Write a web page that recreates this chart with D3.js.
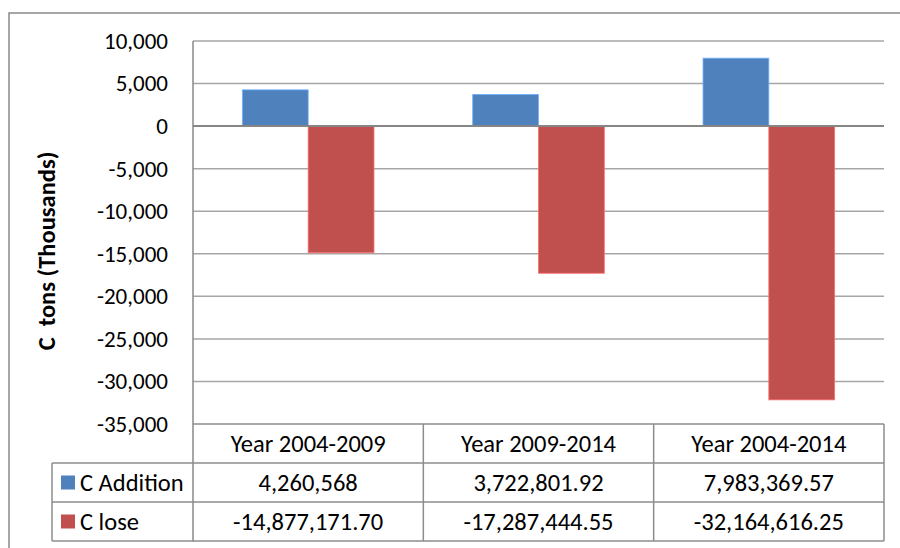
<!DOCTYPE html>
<html>
<head>
<meta charset="utf-8">
<script src="https://cdn.jsdelivr.net/npm/d3@7"></script>
<style>
  html, body { margin: 0; padding: 0; background: #fff; }
  svg { display: block; }
  text { font-family: Carlito, Lato, "Open Sans", sans-serif; fill: #000; }
</style>
</head>
<body>
<svg id="chart" width="900" height="548"></svg>
<script>
// ---- Data ----
const categories = ["Year 2004-2009", "Year 2009-2014", "Year 2004-2014"];
const seriesNames = ["C Addition", "C lose"];
const seriesColors = ["#4f81bd", "#c0504d"];
const cAddition = [4260568, 3722801.92, 7983369.57];
const cLose = [-14877171.70, -17287444.55, -32164616.25];
const cAdditionLabels = ["4,260,568", "3,722,801.92", "7,983,369.57"];
const cLoseLabels = ["-14,877,171.70", "-17,287,444.55", "-32,164,616.25"];
const yTicks = [10000, 5000, 0, -5000, -10000, -15000, -20000, -25000, -30000, -35000];
const yTitle = "C  tons (Thousands)";

const series = [
  { name: seriesNames[0], color: seriesColors[0], values: cAddition, labels: cAdditionLabels },
  { name: seriesNames[1], color: seriesColors[1], values: cLose, labels: cLoseLabels }
];

// ---- Layout ----
const svg = d3.select("#chart");
const plot = { left: 193, right: 884, top: 41, bottom: 424 };
const tableLeft = 52;
const rowH = 39;
const tickFont = "23px";
const tableFont = "24.5px";

const y = d3.scaleLinear().domain([-35000, 10000]).range([plot.bottom, plot.top]);
const x = d3.scaleBand().domain(categories).range([plot.left, plot.right]).padding(0);
const barW = x.bandwidth() / 3.5;

// outer frame
svg.append("path")
  .attr("d", "M9,560 L9,13 L910,13")
  .attr("fill", "none").attr("stroke", "#898989").attr("stroke-width", 1.5);

// gridlines + y axis labels
const yAxis = d3.axisLeft(y).tickValues(yTicks).tickSize(0).tickPadding(0)
  .tickFormat(d => d3.format(",")(d).replace("−", "-"));
const gAxis = svg.append("g").attr("transform", `translate(168,0)`).call(yAxis);
gAxis.select(".domain").remove();
gAxis.selectAll("text").style("font-size", tickFont).attr("fill", "#000")
  .attr("font-family", "Carlito, Lato, sans-serif");

svg.append("g").selectAll("line").data(yTicks.filter(d => d !== 0 && d !== -35000)).join("line")
  .attr("x1", plot.left).attr("x2", plot.right)
  .attr("y1", d => y(d)).attr("y2", d => y(d))
  .attr("stroke", "#a6a6a6").attr("stroke-width", 1.5);

// bars (values in thousands)
series.forEach((s, si) => {
  svg.append("g").selectAll("rect").data(categories).join("rect")
    .attr("x", (c) => x(c) + x.bandwidth() / 2 - barW + si * barW)
    .attr("width", barW)
    .attr("y", (c, i) => y(Math.max(0, s.values[i] / 1000)))
    .attr("height", (c, i) => Math.abs(y(s.values[i] / 1000) - y(0)))
    .attr("fill", s.color)
    .attr("stroke", d3.color(s.color).brighter(0.9))
    .attr("stroke-width", 0.8);
});

// zero line
svg.append("line")
  .attr("x1", plot.left).attr("x2", plot.right)
  .attr("y1", y(0)).attr("y2", y(0))
  .attr("stroke", "#868686").attr("stroke-width", 2);

// plot left axis line
svg.append("line")
  .attr("x1", plot.left).attr("x2", plot.left)
  .attr("y1", plot.top).attr("y2", plot.bottom + rowH * 3 + 0.5)
  .attr("stroke", "#898989").attr("stroke-width", 1.5);

// y title
svg.append("text")
  .attr("transform", `translate(55,${251}) rotate(-90)`)
  .attr("text-anchor", "middle")
  .style("font-size", "24.5px").style("font-weight", "bold")
  .style("white-space", "pre")
  .text(yTitle);

// ---- Data table ----
const tb = svg.append("g");
const tableColor = "#8c8c8c";
tb.append("line").attr("x1", plot.left).attr("x2", plot.right)
  .attr("y1", plot.bottom).attr("y2", plot.bottom)
  .attr("stroke", tableColor).attr("stroke-width", 1.5);
[1, 2, 3].forEach(r => {
  tb.append("line").attr("x1", tableLeft).attr("x2", plot.right)
    .attr("y1", plot.bottom + r * rowH).attr("y2", plot.bottom + r * rowH)
    .attr("stroke", tableColor).attr("stroke-width", 1.5);
});
tb.append("line").attr("x1", tableLeft).attr("x2", tableLeft)
  .attr("y1", plot.bottom + rowH).attr("y2", plot.bottom + 3 * rowH)
  .attr("stroke", tableColor).attr("stroke-width", 1.5);
categories.forEach(c => {
  tb.append("line").attr("x1", x(c) + x.bandwidth()).attr("x2", x(c) + x.bandwidth())
    .attr("y1", plot.bottom).attr("y2", plot.bottom + 3 * rowH)
    .attr("stroke", tableColor).attr("stroke-width", 1.5);
});
tb.selectAll("text.hdr").data(categories).join("text").attr("class", "hdr")
  .attr("x", c => x(c) + x.bandwidth() / 2)
  .attr("y", plot.bottom + rowH / 2)
  .attr("dy", "0.35em").attr("text-anchor", "middle")
  .style("font-size", tableFont).text(c => c);
series.forEach((s, si) => {
  const rowMid = plot.bottom + rowH * (si + 1) + rowH / 2;
  tb.append("rect").attr("x", 61).attr("y", rowMid - 7).attr("width", 14).attr("height", 14)
    .attr("fill", s.color);
  tb.append("text").attr("x", 80).attr("y", rowMid).attr("dy", "0.35em")
    .style("font-size", tableFont).text(s.name);
  tb.selectAll(null).data(categories).join("text")
    .attr("x", c => x(c) + x.bandwidth() / 2)
    .attr("y", rowMid).attr("dy", "0.35em").attr("text-anchor", "middle")
    .style("font-size", tableFont).text((c, i) => s.labels[i]);
});
</script>
</body>
</html>
